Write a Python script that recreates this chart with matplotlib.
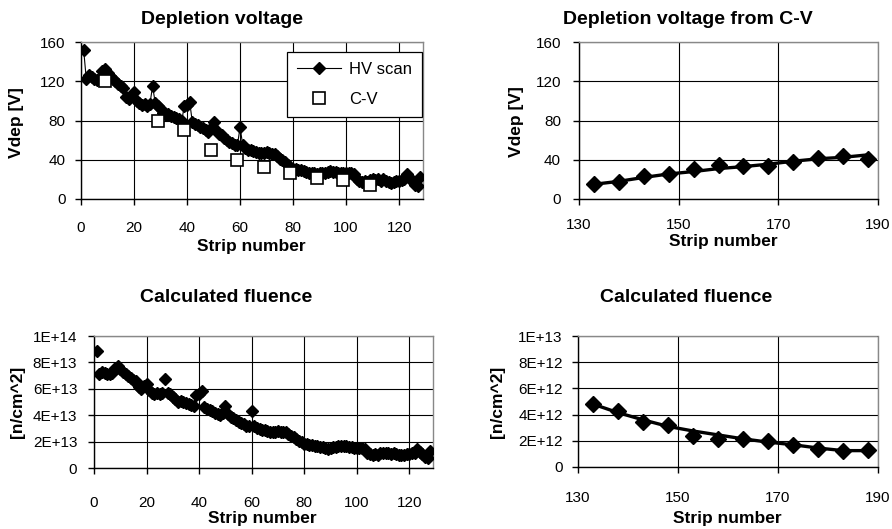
import matplotlib
matplotlib.use("Agg")
import matplotlib.pyplot as plt

plt.rcParams['font.family'] = ['Liberation Sans', 'DejaVu Sans']

# ---------------- data ----------------
strips = list(range(1, 129))
hv_vdep = [152, 122, 126, 124, 122, 121, 122, 130, 132, 128,
           125, 122, 120, 117, 115, 113, 104, 102, 105, 109,
           100, 98, 96, 97, 95, 97, 115, 98, 95, 92,
           88, 86, 87, 85, 84, 83, 82, 80, 95, 96,
           99, 78, 76, 75, 73, 72, 70, 68, 72, 78,
           70, 66, 65, 62, 60, 58, 57, 55, 55, 73,
           55, 52, 50, 50, 49, 48, 47, 47, 47, 48,
           47, 46, 46, 44, 41, 40, 38, 35, 33, 31,
           31, 30, 30, 29, 28, 27, 27, 26, 25, 26,
           27, 27, 28, 29, 28, 28, 27, 27, 26, 26,
           26, 26, 25, 20, 18, 17, 18, 17, 19, 20,
           19, 20, 18, 20, 18, 17, 16, 17, 18, 18,
           19, 20, 25, 21, 18, 14, 13, 22]

cv_strips = [9, 29, 39, 49, 59, 69, 79, 89, 99, 109]
cv_vdep = [120, 80, 70, 50, 40, 33, 26, 21, 19, 14]

# fluence in units of 1e13 n/cm^2
hv_fluence = [8.9, 7.1, 7.3, 7.2, 7.1, 7.1, 7.2, 7.6, 7.7, 7.5,
              7.3, 7.1, 7.0, 6.8, 6.7, 6.6, 6.1, 6.0, 6.2, 6.4,
              5.9, 5.7, 5.6, 5.7, 5.6, 5.7, 6.75, 5.7, 5.6, 5.4,
              5.2, 5.0, 5.1, 5.0, 4.9, 4.85, 4.8, 4.7, 5.55, 5.6,
              5.8, 4.6, 4.45, 4.4, 4.3, 4.2, 4.1, 4.0, 4.2, 4.7,
              4.1, 3.9, 3.8, 3.6, 3.5, 3.4, 3.35, 3.2, 3.2, 4.35,
              3.2, 3.05, 2.95, 2.9, 2.85, 2.8, 2.75, 2.75, 2.75, 2.8,
              2.75, 2.7, 2.7, 2.55, 2.4, 2.35, 2.2, 2.05, 1.95, 1.8,
              1.8, 1.75, 1.75, 1.7, 1.65, 1.6, 1.6, 1.5, 1.45, 1.5,
              1.6, 1.6, 1.65, 1.7, 1.65, 1.65, 1.6, 1.6, 1.5, 1.5,
              1.5, 1.5, 1.45, 1.15, 1.05, 1.0, 1.05, 1.0, 1.1, 1.15,
              1.1, 1.15, 1.05, 1.15, 1.05, 1.0, 0.95, 1.0, 1.05, 1.05,
              1.1, 1.15, 1.45, 1.2, 1.05, 0.8, 0.75, 1.3]

cv2_strips = [133, 138, 143, 148, 153, 158, 163, 168, 173, 178, 183, 188]
cv2_vdep = [15, 17, 23, 25, 31, 35, 34, 34, 38, 42, 44, 41]
cv2_vdep_line = [15, 18, 22, 25.5, 28, 31, 33, 35.5, 38.5, 41, 42.5, 45]
# fluence in units of 1e12 n/cm^2
cv2_fluence = [4.8, 4.3, 3.4, 3.2, 2.4, 2.1, 2.1, 2.0, 1.7, 1.4, 1.2, 1.3]
cv2_fluence_line = [4.8, 4.15, 3.6, 3.1, 2.75, 2.45, 2.15, 1.9, 1.7, 1.45, 1.25, 1.25]

left_xticks = [0, 20, 40, 60, 80, 100, 120]
right_xticks = [130, 150, 170, 190]
vdep_yticks = [0, 40, 80, 120, 160]
fl_ticks = [0, 2, 4, 6, 8, 10]
fl14_labels = ['0', '2E+13', '4E+13', '6E+13', '8E+13', '1E+14']
fl13_labels = ['0', '2E+12', '4E+12', '6E+12', '8E+12', '1E+13']

# ---------------- figure ----------------
W, H = 892, 529
fig = plt.figure(figsize=(W / 100, H / 100), dpi=100)


def px_axes(l, r, t, b):
    return fig.add_axes([l / W, (H - b) / H, (r - l) / W, (b - t) / H])


def style(ax, xlim, xticks, ylim, yticks, ylabels=None, xpad=15, ypad=8):
    ax.set_xlim(*xlim)
    ax.set_ylim(*ylim)
    ax.set_xticks(xticks)
    ax.set_yticks(yticks)
    if ylabels is not None:
        ax.set_yticklabels(ylabels)
    ax.grid(True, color='black', linewidth=0.8)
    ax.set_axisbelow(True)
    for s in ('top', 'right'):
        ax.spines[s].set_color('#888888')
        ax.spines[s].set_linestyle((0, (1, 1)))
        ax.spines[s].set_linewidth(1.0)
    for s in ('left', 'bottom'):
        ax.spines[s].set_color('black')
        ax.spines[s].set_linewidth(1.0)
    ax.tick_params(axis='x', direction='out', length=4, width=1, pad=xpad, labelsize=11)
    ax.tick_params(axis='y', direction='out', length=4, width=1, pad=ypad, labelsize=11)


title_kw = dict(fontsize=14, fontweight='bold', ha='center', va='center')
lab_kw = dict(fontsize=12.5, fontweight='bold', ha='center', va='center')

# Top-left: Depletion voltage
ax1 = px_axes(81, 423, 42, 199)
style(ax1, (0, 129), left_xticks, (0, 160), vdep_yticks, xpad=12, ypad=7)
ax1.plot(strips, hv_vdep, color='black', linewidth=0.8, marker='D',
         markersize=6.5, markerfacecolor='black', markeredgecolor='black',
         label='HV scan', zorder=3)
ax1.plot(cv_strips, cv_vdep, linestyle='none', marker='s', markersize=8,
         markerfacecolor='white', markeredgecolor='black', markeredgewidth=1.2,
         label='C-V', zorder=4)
leg = ax1.legend(loc='upper right', bbox_to_anchor=(0.997, 0.936), borderaxespad=0,
                 fancybox=False, framealpha=1, edgecolor='black', fontsize=12,
                 handlelength=2.6, labelspacing=0.9, borderpad=0.6, handletextpad=0.5)
leg.get_frame().set_linewidth(0.9)

fig.text(222 / W, 1 - 20 / H, 'Depletion voltage', **title_kw)
fig.text(251 / W, 1 - 246 / H, 'Strip number', **lab_kw)
fig.text(17 / W, 1 - 123 / H, 'Vdep [V]', rotation=90, **lab_kw)

# Top-right: Depletion voltage from C-V
ax2 = px_axes(579, 878, 42, 199)
style(ax2, (130, 190), right_xticks, (0, 160), vdep_yticks, xpad=10, ypad=9)
ax2.plot(cv2_strips, cv2_vdep_line, color='black', linewidth=2.4, zorder=3)
ax2.plot(cv2_strips, cv2_vdep, linestyle='none', marker='D', markersize=8,
         markerfacecolor='black', markeredgecolor='black', zorder=4)
fig.text(688 / W, 1 - 20 / H, 'Depletion voltage from C-V', **title_kw)
fig.text(723 / W, 1 - 242 / H, 'Strip number', **lab_kw)
fig.text(517 / W, 1 - 122 / H, 'Vdep [V]', rotation=90, **lab_kw)

# Bottom-left: Calculated fluence
ax3 = px_axes(94, 433, 336, 468)
style(ax3, (0, 129), left_xticks, (0, 10), fl_ticks, fl14_labels, xpad=16, ypad=8)
ax3.plot(strips, hv_fluence, linestyle='none', marker='D', markersize=6.5,
         markerfacecolor='black', markeredgecolor='black', zorder=3)
fig.text(226 / W, 1 - 298 / H, 'Calculated fluence', **title_kw)
fig.text(262 / W, 1 - 518 / H, 'Strip number', **lab_kw)
fig.text(17 / W, 1 - 402 / H, '[n/cm^2]', rotation=90, **lab_kw)

# Bottom-right: Calculated fluence
ax4 = px_axes(578, 878, 336, 467)
style(ax4, (130, 190), right_xticks, (0, 10), fl_ticks, fl13_labels, xpad=13, ypad=7)
ax4.plot(cv2_strips, cv2_fluence_line, color='black', linewidth=2.4, zorder=3)
ax4.plot(cv2_strips, cv2_fluence, linestyle='none', marker='D', markersize=8,
         markerfacecolor='black', markeredgecolor='black', zorder=4)
fig.text(686 / W, 1 - 298 / H, 'Calculated fluence', **title_kw)
fig.text(727 / W, 1 - 518 / H, 'Strip number', **lab_kw)
fig.text(497 / W, 1 - 402 / H, '[n/cm^2]', rotation=90, **lab_kw)

fig.savefig('out.png', dpi=100)
